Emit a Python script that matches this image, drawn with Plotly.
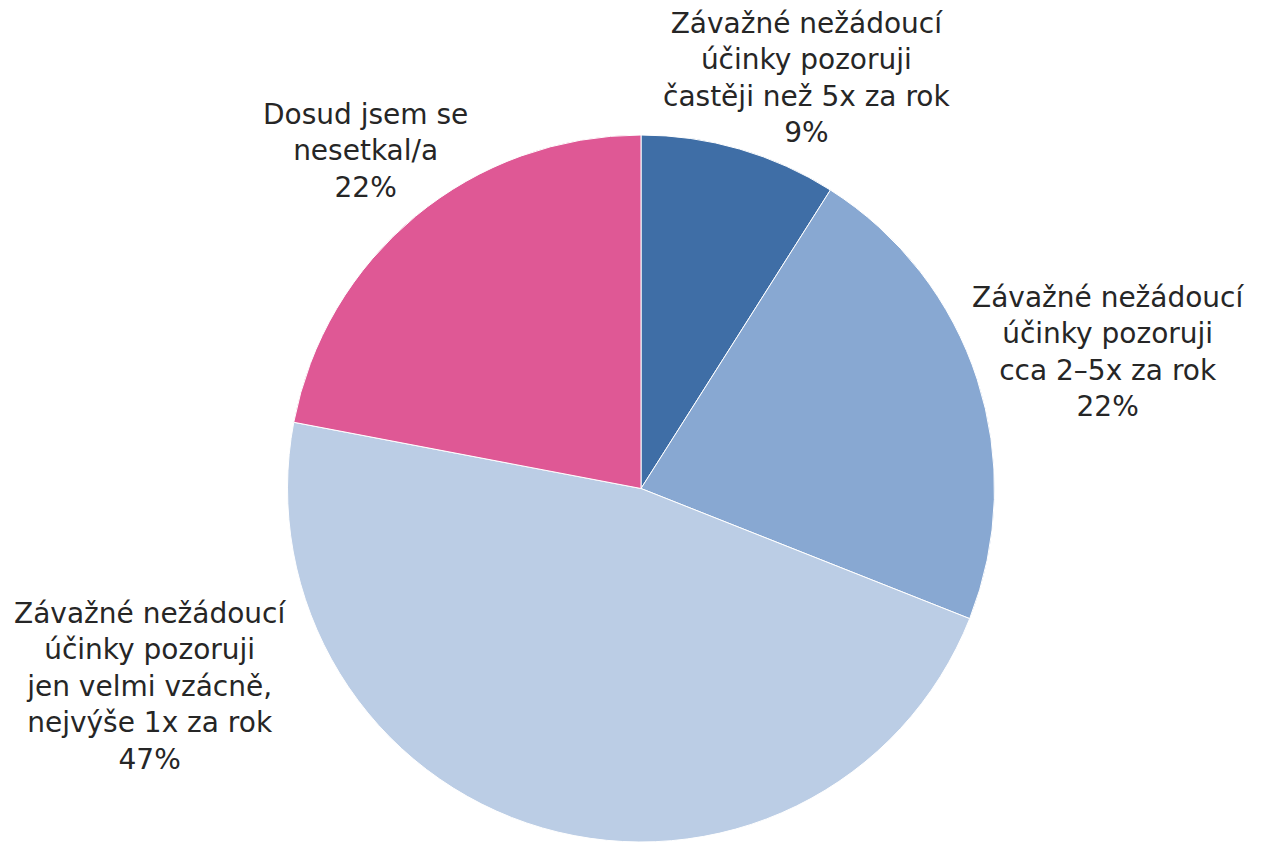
import plotly.graph_objects as go

categories = [
    "Závažné nežádoucí<br>účinky pozoruji<br>častěji než 5x za rok",
    "Závažné nežádoucí<br>účinky pozoruji<br>cca 2–5x za rok",
    "Závažné nežádoucí<br>účinky pozoruji<br>jen velmi vzácně,<br>nejvýše 1x za rok",
    "Dosud jsem se<br>nesetkal/a",
]
values = [9, 22, 47, 22]
colors = ["#3F6EA6", "#88A8D2", "#BBCDE5", "#DF5895"]

W, H = 1266, 842
OFF = 8  # page body offset
ML, MR, MT, MB = 16 - OFF, OFF, 135 - OFF, OFF
PW, PH = W - ML - MR, H - MT - MB

# label centres in (screen) pixels
label_pos = [(806, 78), (1108, 352), (150, 686), (365, 151)]

fig = go.Figure(go.Pie(
    labels=categories,
    values=values,
    sort=False,
    direction="clockwise",
    rotation=0,
    marker=dict(colors=colors, line=dict(color="white", width=1)),
    textinfo="none",
    hoverinfo="label+percent",
    showlegend=False,
))

total = sum(values)
for cat, v, (px, py) in zip(categories, values, label_pos):
    fig.add_annotation(
        x=(px - OFF - ML) / PW, y=1 - (py - OFF - MT) / PH,
        xref="paper", yref="paper",
        text=f"{cat}<br>{round(100 * v / total)}%",
        showarrow=False, xanchor="center", yanchor="middle", align="center",
        font=dict(family="DejaVu Sans, Verdana, sans-serif", size=28, color="#262626"),
    )

fig.update_layout(
    width=W, height=H,
    margin=dict(l=ML, r=MR, t=MT, b=MB),
    paper_bgcolor="white", plot_bgcolor="white",
)
fig.write_html("out.html")
